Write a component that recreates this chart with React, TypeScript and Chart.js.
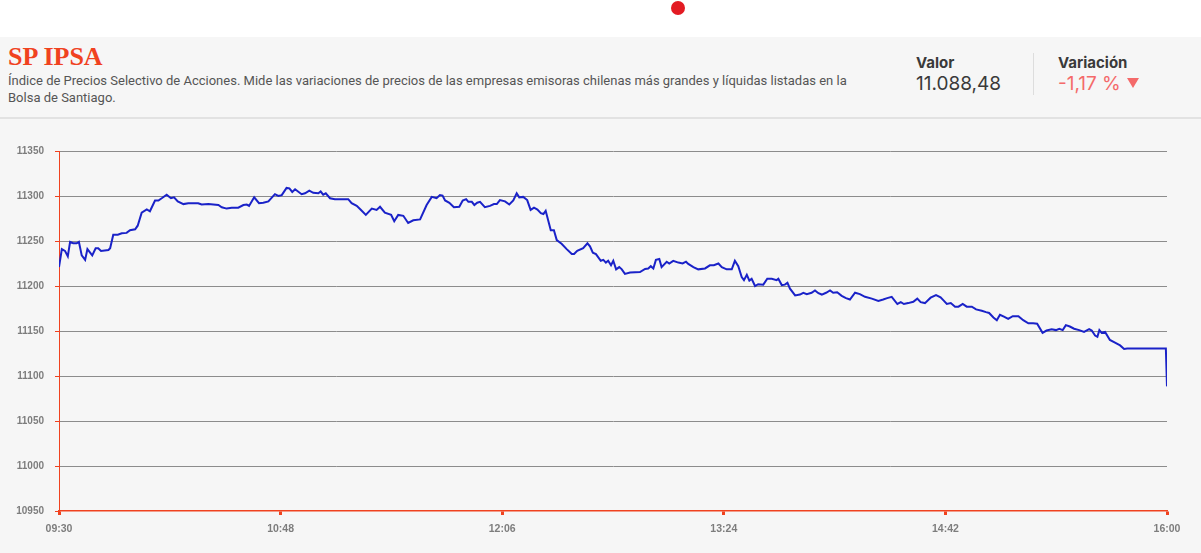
import React, { useEffect, useRef } from "react";
import { Chart, registerables } from "chart.js";

Chart.register(...registerables);

// minutes since 09:30
const minutes: number[] = [
  0, 1, 2.1, 3.1, 3.9, 5, 6.2, 7, 8, 9.2, 10, 11.7, 12.9, 13.8, 14.8, 17.4, 18, 19.1, 20.7, 22.1,
  23.8, 25, 26.8, 27.7, 29.1, 30.9, 32, 33.8, 35, 36.4, 37.9, 39.4, 40.5, 41.8, 43.8, 45.5, 49, 50.2, 52.6, 54.3,
  56.1, 57.3, 59, 60.8, 63.1, 64.9, 66.1, 66.9, 68.7, 70.4, 71.9, 73.7, 76, 77.2, 78.4, 80.1, 81.1, 82.1, 83.1, 85.4,
  86.6, 88.1, 89.5, 91.3, 92.1, 93, 93.9, 95.4, 97.1, 101.8, 103, 104.8, 106.3, 108, 110.1, 111.8, 113, 114.7, 116.9, 118,
  119.4, 121.2, 122.9, 124.7, 127.1, 129.4, 131.2,
  132.9, 134.1, 135, 135.9, 137.4, 139, 140.9, 142.1, 143.3, 144.1, 145.3, 146.2, 147.2, 148.2, 149.9,
  151.7, 153.1, 154.1, 155.2, 157, 158.5, 159.9, 161.1, 162, 163.4, 164.8, 166, 167.2, 168.4, 169.6,
  170.5, 171.3, 173.1, 174.2, 175.2, 176.9, 178.7, 180.5, 181.3, 182.4, 184.5, 186, 186.9, 187.9, 189,
  190.7, 191.6, 192.5, 193.3, 194.3, 195.1, 196.1, 197.2, 198.1, 199.2, 201, 204.5, 206.3, 207.4, 208.3,
  209.2, 210.1, 211.3, 212.1, 213.9, 214.8, 216.2, 218, 219.5, 220.7, 221.5, 223.3, 225, 227.4, 229.1,
  230.5, 232.1, 233.3, 235, 236.8, 237.9, 239.1, 240.3, 241.1, 242.1, 243, 243.8, 245, 246.1, 247.9,
  249.3, 250.9, 252.6, 253.2, 254.4, 255.5, 256.4, 257.3, 259.1, 260.8,
  262, 263.2, 264.9, 266.1, 267.3, 268.5, 270, 271.4, 272.5, 273.9, 275.5, 277, 278.4, 280.2, 281.9,
  283.7, 286.1, 288.4, 290.1, 291.5, 293.1, 295.1, 296.3, 297.4, 298.9, 300.7, 302.1, 303.3, 304.8, 306.8,
  308.7, 310.3, 311.5, 312.5, 313.9, 315.4, 316.6, 318.1, 319.5, 321.3, 322.8, 324.8, 326.3, 327.4, 328.9,
  330.1, 331.2, 332.6, 334.1, 335.7, 337.7, 339.4, 341.2, 342.9, 344.3, 346.2, 347.6, 349.4, 350.9, 352.1,
  353.3, 354.4, 355.8, 357.3, 359.1, 360.8, 362.6, 363.5, 364.7, 365.5, 366.2, 367, 368.2, 369.9, 371.7,
  373.5, 374.9, 376, 389.6, 390,
];

const values: number[] = [
  11221, 11241, 11239, 11233, 11249, 11247.5, 11247.5, 11249, 11234, 11229, 11241, 11234, 11242, 11242, 11239, 11240, 11242, 11257, 11257, 11258.5,
  11259, 11262, 11263, 11267, 11281.5, 11285, 11283, 11295, 11295, 11298, 11301.5, 11297.5, 11298.5, 11294, 11291, 11292, 11292, 11290.5, 11291, 11290.5,
  11290, 11287.5, 11286, 11287, 11287, 11290, 11290.5, 11289, 11298.5, 11292, 11292.5, 11294, 11302, 11300, 11301, 11309, 11308.5, 11304.5, 11307.5, 11302,
  11303, 11306, 11303.5, 11303, 11305, 11301.5, 11303, 11297.5, 11296.5, 11296.5, 11292, 11289, 11284.5, 11279, 11286, 11284.5, 11288, 11281.5, 11279, 11272,
  11279, 11278, 11270, 11273, 11274, 11290, 11299,
  11297.5, 11301, 11300.5, 11295, 11292.5, 11287.5, 11288, 11295, 11296.5, 11293.5, 11293.5, 11290, 11292.5, 11293.5, 11287.5,
  11289, 11291, 11291, 11295.5, 11294, 11290.5, 11295, 11303, 11298.5, 11299, 11295.5, 11284.5, 11287, 11285, 11281,
  11280, 11283.5, 11262, 11262, 11251, 11247, 11241, 11235.5, 11235.5, 11239, 11242, 11247.5, 11244, 11237, 11235.5,
  11228, 11229, 11226, 11228, 11223, 11228, 11218.5, 11221, 11218.5, 11213.5, 11215, 11215.5, 11219, 11219.5, 11222,
  11219.5, 11229, 11230, 11221, 11227, 11225, 11228, 11226, 11225, 11227, 11224.5, 11221, 11218.5, 11219.5, 11223,
  11223, 11225, 11221, 11218.5, 11218.5, 11228, 11222, 11210, 11206.5, 11212.5, 11206, 11208, 11200, 11202, 11201.5,
  11208, 11208, 11206.5, 11208, 11201, 11201.5, 11203.5, 11197, 11189.5, 11190.5,
  11192.5, 11191, 11192.5, 11195, 11192, 11190.5, 11192.5, 11195, 11192.5, 11193, 11189, 11186.5, 11185, 11192.5, 11191,
  11188, 11186, 11183.5, 11185, 11186.5, 11188, 11180, 11182, 11180, 11181, 11182.5, 11186, 11182, 11181, 11187,
  11190, 11187.5, 11183.5, 11180, 11181, 11177, 11177, 11180, 11177, 11177, 11174, 11172.5, 11171, 11170, 11165,
  11162, 11168, 11166, 11163.5, 11166.5, 11166.5, 11162, 11158.5, 11158.5, 11158, 11148, 11150.5, 11152, 11151, 11152.5,
  11151, 11156.5, 11155, 11152.5, 11151, 11149, 11152, 11150.5, 11145, 11143.5, 11151, 11148, 11149, 11140, 11137,
  11134, 11130, 11130.5, 11130.5, 11088.48,
];

const timeLabels: string[] = ["09:30", "10:48", "12:06", "13:24", "14:42", "16:00"];
const xStepMinutes = 78;
const yMin = 10950;
const yMax = 11350;
const yStep = 50;

const RED = "#f0421f";
const LINE = "#1a22c8";
const GRID = "#8c8c8c";
const TICK_TEXT = "#7d7d7d";

function LineChart() {
  const ref = useRef<HTMLCanvasElement | null>(null);
  useEffect(() => {
    if (!ref.current) return;
    const points = minutes.map((m, i) => ({ x: m, y: values[i] }));
    const chart = new Chart(ref.current, {
      type: "line",
      data: {
        datasets: [
          {
            data: points,
            borderColor: LINE,
            borderWidth: 2,
            pointRadius: 0,
            tension: 0,
            fill: false,
          },
        ],
      },
      options: {
        animation: false,
        responsive: false,
        devicePixelRatio: 1,
        layout: { padding: { left: 0, right: 34, top: 31, bottom: 0 } },
        plugins: { legend: { display: false }, tooltip: { enabled: false } },
        scales: {
          x: {
            type: "linear",
            min: 0,
            max: 390,
            afterFit: (s: any) => {
              s.height = 42;
            },
            afterBuildTicks: (s: any) => {
              s.ticks = timeLabels.map((_, i) => ({ value: i * xStepMinutes }));
            },
            ticks: {
              callback: (v: any) => timeLabels[Math.round(Number(v) / xStepMinutes)] ?? "",
              color: TICK_TEXT,
              font: { family: "Liberation Sans", size: 10.5, weight: "bold" },
              padding: 8,
              maxRotation: 0,
              autoSkip: false,
            },
            grid: {
              drawOnChartArea: false,
              drawTicks: true,
              tickLength: 4,
              tickWidth: 3,
              tickColor: RED,
            },
            border: { display: true, color: RED, width: 1.5 },
          },
          y: {
            min: yMin,
            max: yMax,
            afterFit: (s: any) => {
              s.width = 59;
            },
            ticks: {
              stepSize: yStep,
              callback: (v: any) => String(v),
              color: TICK_TEXT,
              font: { family: "Liberation Sans", size: 10, weight: "bold" },
              padding: 11,
            },
            grid: {
              color: (ctx: any) => (ctx.tick && ctx.tick.value === yMin ? "rgba(0,0,0,0)" : GRID),
              lineWidth: 1,
              drawTicks: true,
              tickLength: 4,
              tickColor: RED,
            },
            border: { display: true, color: RED, width: 1 },
          },
        },
      },
    });
    return () => chart.destroy();
  }, []);
  return (
    <canvas
      ref={ref}
      width={1201}
      height={433}
      style={{ position: "absolute", left: 0, top: 120, width: 1201, height: 433 }}
    />
  );
}

export default function App() {
  return (
    <div
      style={{
        position: "absolute",
        left: 0,
        top: 0,
        width: 1201,
        height: 553,
        background: "#ffffff",
        overflow: "hidden",
      }}
    >
      <div
        style={{
          position: "absolute",
          left: 671,
          top: 1,
          width: 14,
          height: 14,
          borderRadius: 7,
          background: "#e31b23",
        }}
      />
      <div
        style={{
          position: "absolute",
          left: 0,
          top: 37,
          width: 1201,
          height: 516,
          background: "#f6f6f6",
        }}
      />
      <div
        style={{
          position: "absolute",
          left: 0,
          top: 117,
          width: 1201,
          height: 2,
          background: "#e2e2e2",
        }}
      />
      <div
        style={{
          position: "absolute",
          left: 8,
          top: 44,
          fontFamily: "'Liberation Serif', serif",
          fontWeight: "bold",
          fontSize: 26,
          lineHeight: "26px",
          color: RED,
          whiteSpace: "nowrap",
        }}
      >
        SP IPSA
      </div>
      <div
        style={{
          position: "absolute",
          left: 8,
          top: 72,
          fontFamily: "Roboto, sans-serif",
          fontSize: 13,
          lineHeight: "17px",
          color: "#555555",
          whiteSpace: "nowrap",
        }}
      >
        Índice de Precios Selectivo de Acciones. Mide las variaciones de precios de las empresas emisoras chilenas más grandes y líquidas listadas en la
        <br />
        Bolsa de Santiago.
      </div>
      <div
        style={{
          position: "absolute",
          left: 916,
          top: 54,
          fontFamily: "Inter, sans-serif",
          fontWeight: 700,
          fontSize: 15,
          lineHeight: "18px",
          color: "#3a3a3a",
          whiteSpace: "nowrap",
        }}
      >
        Valor
      </div>
      <div
        style={{
          position: "absolute",
          left: 916,
          top: 72,
          fontFamily: "Inter, sans-serif",
          fontSize: 19,
          lineHeight: "23px",
          color: "#3a3a3a",
          whiteSpace: "nowrap",
        }}
      >
        11.088,48
      </div>
      <div
        style={{
          position: "absolute",
          left: 1033,
          top: 53,
          width: 1,
          height: 42,
          background: "#dddddd",
        }}
      />
      <div
        style={{
          position: "absolute",
          left: 1058,
          top: 54,
          fontFamily: "Inter, sans-serif",
          fontWeight: 700,
          fontSize: 15,
          lineHeight: "18px",
          color: "#3a3a3a",
          whiteSpace: "nowrap",
        }}
      >
        Variación
      </div>
      <div
        style={{
          position: "absolute",
          left: 1058,
          top: 72,
          fontFamily: "Inter, sans-serif",
          fontSize: 19,
          lineHeight: "23px",
          color: "#f46a6a",
          whiteSpace: "nowrap",
        }}
      >
        -1,17 %
      </div>
      <div
        style={{
          position: "absolute",
          left: 1127,
          top: 78,
          width: 0,
          height: 0,
          borderLeft: "6px solid transparent",
          borderRight: "6px solid transparent",
          borderTop: "10px solid #f46a6a",
        }}
      />
      <LineChart />
    </div>
  );
}
